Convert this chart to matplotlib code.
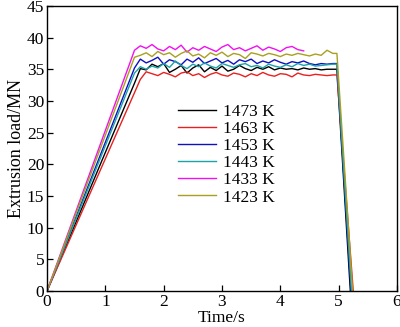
import matplotlib
matplotlib.use("Agg")
import matplotlib.pyplot as plt

plt.rcParams["font.family"] = ["Liberation Serif", "DejaVu Serif"]

# plateau sampling times (s)
TIME = [1.5, 1.6, 1.7, 1.8, 1.9, 2.0, 2.1, 2.2, 2.3, 2.4, 2.5, 2.6, 2.7, 2.8,
        2.9, 3.0, 3.1, 3.2, 3.3, 3.4, 3.5, 3.6, 3.7, 3.8, 3.9, 4.0, 4.1, 4.2,
        4.3, 4.4, 4.5, 4.6, 4.7, 4.8, 4.9]

LABELS = ["1473 K", "1463 K", "1453 K", "1443 K", "1433 K", "1423 K"]
COLORS = ["#000000", "#e8201f", "#1010c0", "#1aa3a8", "#f010f0", "#a8a020"]

LOAD_1473 = [32.8, 35.1, 34.9, 35.8, 35.4, 35.9, 34.5, 35.0, 35.6, 34.4, 35.2, 35.7,
             34.6, 35.3, 34.8, 35.5, 34.7, 35.0, 35.6, 35.1, 34.8, 35.3, 35.0, 35.4,
             34.9, 35.2, 35.0, 35.1, 34.9, 35.2, 35.0, 35.1, 34.9, 35.0, 35.0]
LOAD_1463 = [31.3, 33.4, 34.6, 34.3, 34.0, 34.5, 34.2, 33.8, 34.4, 34.6, 34.0, 34.3,
             33.7, 34.2, 34.5, 34.1, 33.9, 34.4, 34.2, 33.8, 34.3, 34.0, 34.5, 34.1,
             33.9, 34.3, 34.2, 33.8, 34.4, 34.1, 34.0, 34.2, 34.1, 34.0, 34.1]
LOAD_1453 = [35.2, 36.6, 36.0, 36.4, 36.9, 35.8, 36.5, 36.2, 35.7, 36.6, 36.1, 36.8,
             35.9, 36.3, 36.7, 36.0, 36.4, 35.8, 36.5, 36.2, 36.6, 35.9, 36.3, 36.0,
             36.5, 36.1, 35.8, 36.2, 36.0, 36.3, 35.9, 35.7, 35.9, 35.8, 35.9]
LOAD_1443 = [34.4, 35.4, 35.0, 35.5, 35.2, 35.9, 35.3, 36.3, 35.6, 35.1, 35.8, 35.4,
             36.0, 35.5, 35.2, 35.9, 35.6, 35.3, 35.7, 35.9, 35.4, 35.6, 35.2, 35.8,
             35.5, 35.3, 35.7, 35.4, 35.9, 35.6, 35.8, 35.5, 35.6, 35.7, 35.8]
LOAD_1433 = [38.0, 38.7, 38.3, 38.9, 38.2, 37.9, 38.6, 38.1, 38.8, 37.7, 38.4, 38.0,
             38.6, 38.2, 37.8, 38.5, 38.9, 38.1, 38.4, 37.9, 38.3, 38.7, 38.0, 38.5,
             38.2, 37.8, 38.4, 38.6, 38.1, 37.9]
LOAD_1423 = [36.9, 37.2, 37.6, 37.0, 37.8, 37.3, 37.6, 36.9, 37.5, 37.9, 37.1, 37.4,
             36.8, 37.6, 37.2, 37.7, 37.0, 37.5, 37.3, 36.7, 37.6, 37.4, 37.1, 37.5,
             37.3, 37.0, 37.4, 37.2, 37.5, 37.3, 37.1, 37.4, 37.2, 38.0, 37.5]
LOADS = [LOAD_1473, LOAD_1463, LOAD_1453, LOAD_1443, LOAD_1433, LOAD_1423]

HOLD_T = 4.97                                    # end of steady stage
END_T = [5.20, 5.25, 5.21, 5.22, None, 5.24]     # load back to zero

fig = plt.figure(figsize=(4.0, 3.27), dpi=100)
ax = fig.add_axes([0.1175, 0.11, 0.875, 0.872])

for lab, col, load, end in zip(LABELS, COLORS, LOADS, END_T):
    t = [0.0] + TIME[:len(load)]
    y = [0.0] + load
    if end is not None:
        t += [HOLD_T, end]
        y += [load[-1], 0.0]
    ax.plot(t, y, color=col, lw=1.0, label=lab)

ax.set_xlim(0, 6)
ax.set_ylim(0, 45)
ax.set_xticks(range(0, 7))
ax.set_yticks(range(0, 46, 5))
ax.tick_params(direction="in", length=4, width=0.9, labelsize=12.5, pad=2)
for s in ax.spines.values():
    s.set_linewidth(1.0)
ax.set_xlabel("Time/s", fontsize=12.5, labelpad=0)
ax.set_ylabel("Extrusion load/MN", fontsize=13, labelpad=1)

ax.legend(loc="upper left", bbox_to_anchor=(0.374, 0.655), frameon=False,
          fontsize=12.5, handlelength=2.2, handletextpad=0.4,
          labelspacing=0.05, borderaxespad=0, borderpad=0)

fig.savefig("out.png", dpi=100)
